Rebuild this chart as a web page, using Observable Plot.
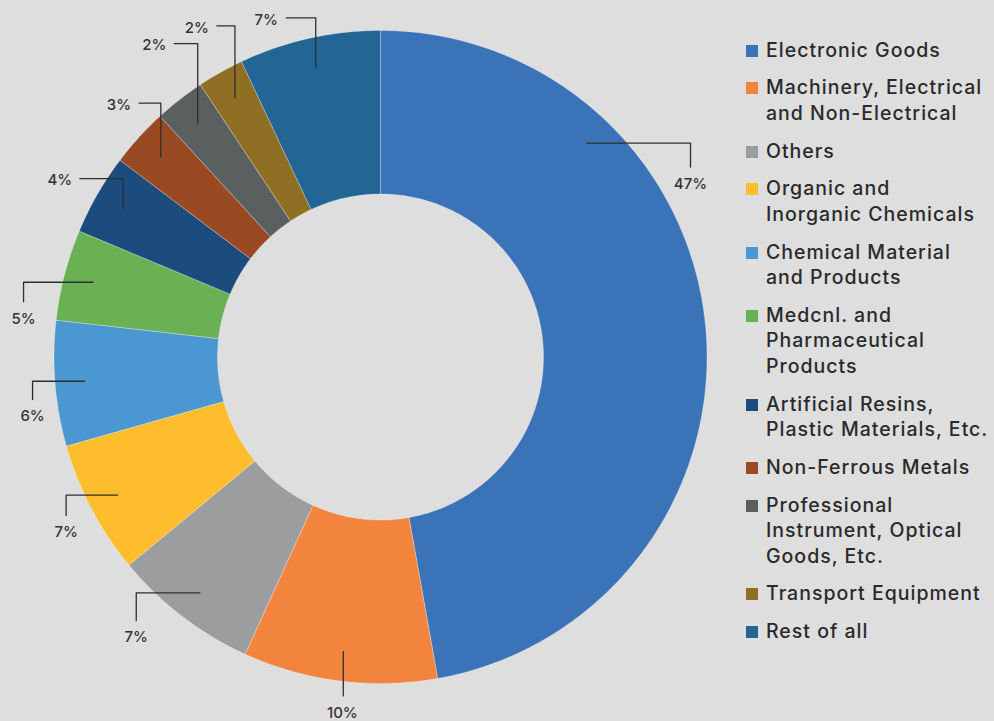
<!DOCTYPE html>
<html><head><meta charset="utf-8">
<script src="https://cdn.jsdelivr.net/npm/d3@7"></script>
<script src="https://cdn.jsdelivr.net/npm/@observablehq/plot@0.6"></script>
<style>
html,body{margin:0;padding:0;background:#dedede;}
#wrap{position:relative;width:994px;height:721px;overflow:hidden;background:#dedede;}
#chart{position:absolute;left:0;top:0;}
#legend{position:absolute;left:746px;top:37.5px;width:243px;font-family:Inter,"Open Sans",sans-serif;font-size:19.5px;font-weight:500;letter-spacing:1.0px;line-height:25.5px;color:#2a2a2a;}
.item{display:flex;align-items:flex-start;margin-bottom:12.25px;}
.sw{width:12px;height:12px;flex:none;margin-top:7px;margin-right:8px;}
</style></head><body><div id="wrap"><div id="chart"></div><div id="legend"></div></div>
<script>
// ---- data ----
const categories = [
  "Electronic Goods",
  "Machinery, Electrical and Non-Electrical",
  "Others",
  "Organic and Inorganic Chemicals",
  "Chemical Material and Products",
  "Medcnl. and Pharmaceutical Products",
  "Artificial Resins, Plastic Materials, Etc.",
  "Non-Ferrous Metals",
  "Professional Instrument, Optical Goods, Etc.",
  "Transport Equipment",
  "Rest of all"
];
const shares = [47.2, 9.6, 7.2, 6.6, 6.2, 4.5, 4.0, 2.9, 2.5, 2.3, 7.0];
const shareLabels = ["47%", "10%", "7%", "7%", "6%", "5%", "4%", "3%", "2%", "2%", "7%"];
const colors = ["#3b73b9", "#f3843d", "#9c9d9f", "#fdbd2c", "#4b97d2", "#6ab155",
                "#1c4b7d", "#9a4a22", "#5a5f5f", "#8f6f23", "#236595"];

// ---- label layout (polar: percent of circle, radius in chart units) ----
const labelTheta = [16.9, 51.7, 61.4, 66.9, 72.3, 76.7, 83.0, 87.2, 90.0, 91.9, 94.8];
const labelRadius = [355, 358, 372, 360, 353, 359, 366, 363, 385, 377, 356];
const anchorTheta = [12.2, null, null, null, null, null, null, null, null, null, null];

// ---- geometry ----
const R = 326.5, r0 = 163, anchorR = 297;
const TAU = 2 * Math.PI;
const pol = (pct, r) => [r * Math.sin(pct / 100 * TAU), r * Math.cos(pct / 100 * TAU)];

const slices = [];
let cum = 0;
const total = d3.sum(shares);
categories.forEach((name, i) => {
  const p0 = cum / total * 100, p1 = (cum + shares[i]) / total * 100;
  cum += shares[i];
  const n = Math.max(4, Math.ceil((p1 - p0) * 4));
  const pts = [];
  for (let k = 0; k <= n; k++) { const p = p0 + (p1 - p0) * k / n; const [x, y] = pol(p, R); pts.push({name, x, y}); }
  for (let k = n; k >= 0; k--) { const p = p0 + (p1 - p0) * k / n; const [x, y] = pol(p, r0); pts.push({name, x, y}); }
  pts.push({...pts[0]});
  slices.push({name, p0, p1, pts});
});
const slicePts = slices.flatMap(s => s.pts);

const labels = [], leaders = [];
slices.forEach((s, i) => {
  const [lx, ly] = pol(labelTheta[i], labelRadius[i]);
  const at = anchorTheta[i] ?? (s.p0 + s.p1) / 2;
  const [ax, ay] = pol(at, anchorR);
  labels.push({x: lx, y: ly, text: shareLabels[i]});
  let path;
  if (ly > ay) {
    const sx = lx < ax ? lx + 20 : lx - 20;
    path = [[sx, ly + 2], [ax, ly + 2], [ax, ay]];
  } else {
    const vx = Math.abs(lx - ax) < 6 ? ax : lx;
    path = [[vx, ly + 17], [vx, ay], [ax, ay]];
  }
  path.forEach(([x, y]) => leaders.push({id: i, x, y}));
});

const chart = Plot.plot({
  width: 740, height: 721, margin: 0,
  x: {domain: [-380, 360], axis: null},
  y: {domain: [-364.5, 356.5], axis: null},
  color: {domain: categories, range: colors},
  style: {background: "transparent"},
  marks: [
    Plot.line(slicePts, {x: "x", y: "y", z: "name", fill: "name", stroke: "#ffffff", strokeOpacity: 0.35, strokeWidth: 0.8}),
    Plot.line(leaders, {x: "x", y: "y", z: "id", stroke: "#2f2f2f", strokeWidth: 1.3}),
    Plot.text(labels, {x: "x", y: "y", text: "text", fontSize: 15, fontWeight: 500, fill: "#333333", fontFamily: "Inter, 'Open Sans', sans-serif"})
  ]
});
document.getElementById("chart").appendChild(chart);

// ---- legend ----
const lg = d3.select("#legend");
categories.forEach((c, i) => {
  const it = lg.append("div").attr("class", "item");
  it.append("div").attr("class", "sw").style("background", colors[i]);
  it.append("div").text(c);
});
</script></body></html>
